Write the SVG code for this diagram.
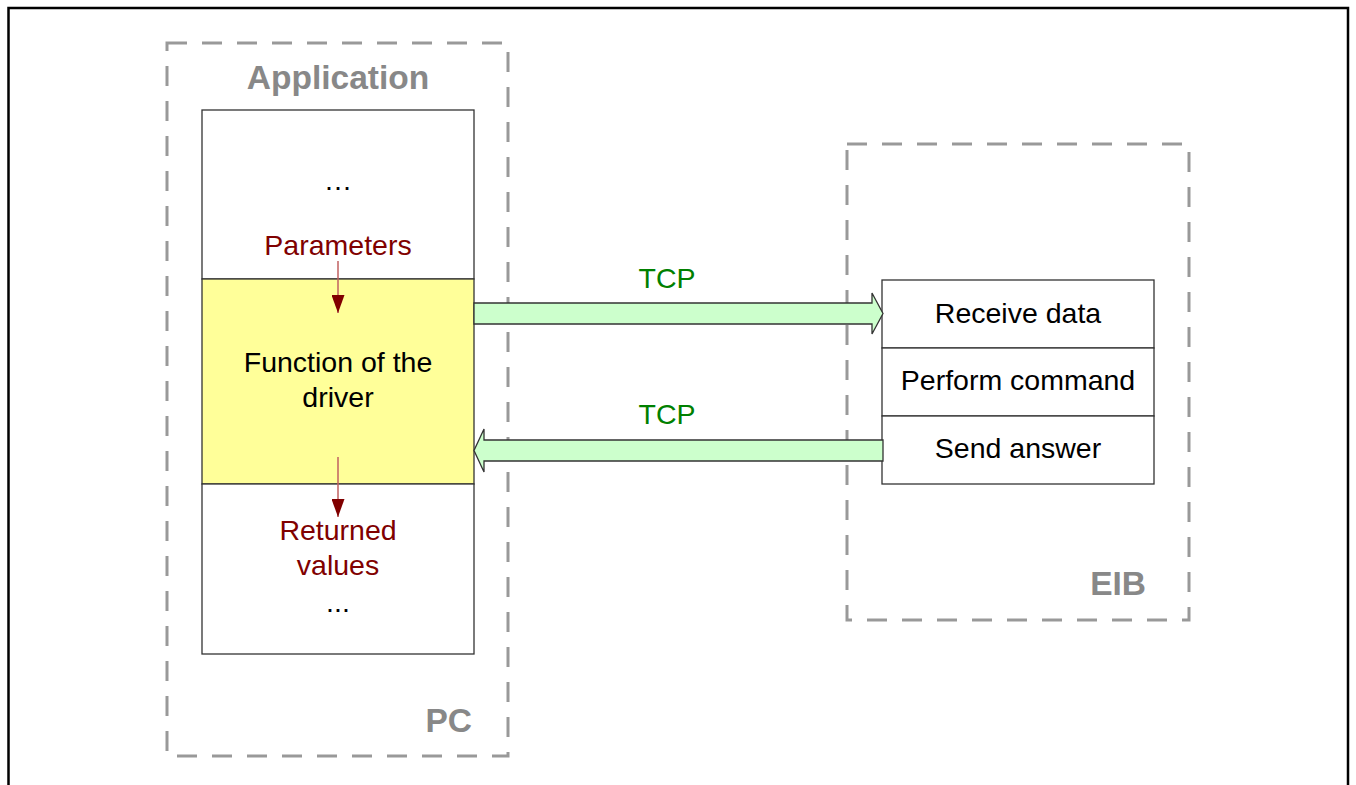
<svg xmlns="http://www.w3.org/2000/svg" width="1356" height="785" viewBox="0 0 1356 785">
  <style>
    .frame { fill: none; stroke: #000; stroke-width: 2.5; }
    .group { fill: none; stroke: #999; stroke-width: 3; stroke-dasharray: 20 15; }
    .cell { fill: #fff; stroke: #333; stroke-width: 1.3; }
    .driver { fill: #ffff99; stroke: #333; stroke-width: 1.3; }
    .pipe { fill: #ccffcc; stroke: #333; stroke-width: 1.3; stroke-linejoin: miter; }
    .flow { stroke: #c06060; stroke-width: 1.5; }
    text { font-family: "Liberation Sans", Arial, sans-serif; }
    .title { font-size: 33.5px; font-weight: bold; fill: #888; }
    .label { font-size: 28.5px; fill: #000; text-anchor: middle; }
    .data { font-size: 28.5px; fill: #800000; text-anchor: middle; }
    .tcp { font-size: 28.5px; fill: #008000; text-anchor: middle; }
  </style>
  <defs>
    <marker id="head" viewBox="0 0 18 13" refX="18" refY="6.5" markerWidth="18" markerHeight="13" markerUnits="userSpaceOnUse" orient="auto">
      <path d="M0,0 L18,6.5 L0,13 Z" fill="#800000"/>
    </marker>
  </defs>

  <rect class="frame" x="8.5" y="8" width="1339.5" height="800"/>

  <!-- PC side -->
  <g id="pc">
    <rect class="group" x="167" y="43" width="341" height="713"/>
    <text class="title" x="338" y="89" text-anchor="middle">Application</text>
    <text class="title" x="472" y="732" text-anchor="end">PC</text>
  </g>

  <g id="app-before">
    <rect class="cell" x="202" y="110" width="272" height="169"/>
    <text class="label" x="338" y="190">…</text>
  </g>

  <g id="driver-function">
    <rect class="driver" x="202" y="279" width="272" height="205"/>
    <text class="label" x="338" y="372">Function of the</text>
    <text class="label" x="338" y="407">driver</text>
  </g>

  <g id="app-after">
    <rect class="cell" x="202" y="484" width="272" height="170"/>
    <text class="label" x="338" y="612">...</text>
  </g>

  <!-- EIB side -->
  <g id="eib">
    <rect class="group" x="847" y="144" width="342" height="476"/>
    <text class="title" x="1146" y="595" text-anchor="end">EIB</text>
  </g>

  <g id="receive-data">
    <rect class="cell" x="882" y="280" width="272" height="68"/>
    <text class="label" x="1018" y="323">Receive data</text>
  </g>
  <g id="perform-command">
    <rect class="cell" x="882" y="348" width="272" height="68"/>
    <text class="label" x="1018" y="390">Perform command</text>
  </g>
  <g id="send-answer">
    <rect class="cell" x="882" y="416" width="272" height="68"/>
    <text class="label" x="1018" y="458">Send answer</text>
  </g>

  <!-- connectors -->
  <g id="connectors">
    <path class="pipe" d="M474,303 L872,303 L872,293 L883,313.5 L872,334 L872,324 L474,324 Z"/>
    <text class="tcp" x="667" y="288">TCP</text>

    <path class="pipe" d="M883,440 L484,440 L484,429 L474,450.5 L484,472 L484,461 L883,461 Z"/>
    <text class="tcp" x="667" y="424">TCP</text>

    <line class="flow" x1="338" y1="261" x2="338" y2="313" marker-end="url(#head)"/>
    <text class="data" x="338" y="255">Parameters</text>

    <line class="flow" x1="338" y1="457" x2="338" y2="517" marker-end="url(#head)"/>
    <text class="data" x="338" y="540">Returned</text>
    <text class="data" x="338" y="575">values</text>
  </g>
</svg>
